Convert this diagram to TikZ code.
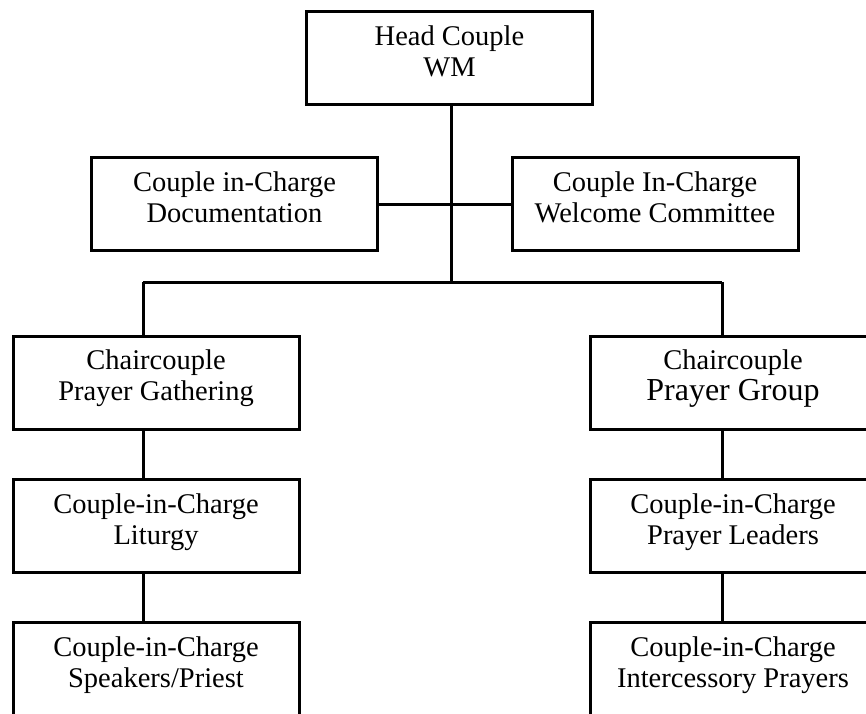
\documentclass[tikz,border=0pt]{standalone}
\usepackage{fontspec}
\setmainfont{Liberation Serif}

\begin{document}
\begin{tikzpicture}[x=1pt, y=-1pt,
    orgbox/.style={draw, line width=3pt, minimum width=286pt, minimum height=93pt,
      inner sep=0pt, align=center, text height=46pt, text depth=10pt,
      font=\fontsize{28.5}{31}\selectfont},
    link/.style={line width=3pt}]

  \useasboundingbox (0,0) rectangle (866,713);

  % Top of the tree
  \node[orgbox] (head) at (449.5,58) {Head Couple\\WM};
  \node[orgbox] (docu) at (234.5,204) {Couple in-Charge\\Documentation};
  \node[orgbox] (welc) at (655,204) {Couple In-Charge\\Welcome Committee};

  % Branch points
  \coordinate (jmid) at (451,282);
  \coordinate (jleft) at (143,282);
  \coordinate (jright) at (722,282);

  % Left column
  \node[orgbox] (gath) at (156,382.5) {Chaircouple\\Prayer Gathering};
  \node[orgbox] (litu) at (156,526) {Couple-in-Charge\\Liturgy};
  \node[orgbox] (spkr) at (156,669) {Couple-in-Charge\\Speakers/Priest};

  % Right column
  \node[orgbox] (grp) at (733,382.5) {Chaircouple\\{\fontsize{32}{31}\selectfont Prayer Group}};
  \node[orgbox] (lead) at (733,526) {Couple-in-Charge\\Prayer Leaders};
  \node[orgbox] (intc) at (733,669) {Couple-in-Charge\\Intercessory Prayers};

  % Connectors
  \draw[link] (head.south -| jmid) -- (jmid);
  \draw[link] (docu.east) -- (welc.west);
  \draw[link] (jleft) -- (jright);
  \draw[link] (jleft) -- (jleft |- gath.north);
  \draw[link] (jright) -- (jright |- grp.north);
  \draw[link] (gath.south -| jleft) -- (litu.north -| jleft);
  \draw[link] (litu.south -| jleft) -- (spkr.north -| jleft);
  \draw[link] (grp.south -| jright) -- (lead.north -| jright);
  \draw[link] (lead.south -| jright) -- (intc.north -| jright);

\end{tikzpicture}
\end{document}
